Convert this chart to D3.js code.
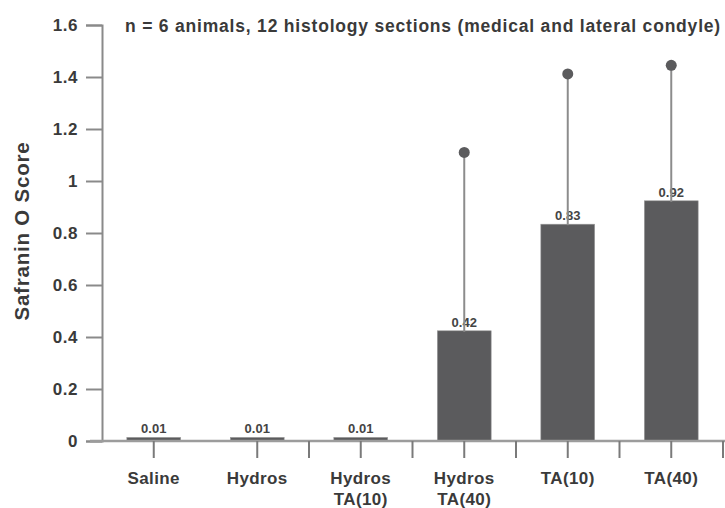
<!DOCTYPE html>
<html>
<head>
<meta charset="utf-8">
<script src="https://cdn.jsdelivr.net/npm/d3@7"></script>
<style>
  body { margin: 0; background: #fff; }
  text { font-family: "Liberation Sans", Arial, sans-serif; }
</style>
</head>
<body>
<div id="chart"></div>
<script>
const categories = [['Saline'], ['Hydros'], ['Hydros', 'TA(10)'], ['Hydros', 'TA(40)'], ['TA(10)'], ['TA(40)']];
const means = [0.01, 0.01, 0.01, 0.42, 0.83, 0.92];
const errTops = [null, null, null, 1.11, 1.412, 1.445];
const yTicks = [0, 0.2, 0.4, 0.6, 0.8, 1, 1.2, 1.4, 1.6];
const title = 'n = 6 animals, 12 histology sections (medical and lateral condyle)';

const width = 725, height = 508;
const margin = { top: 25, right: 2, bottom: 67, left: 102 };
const innerW = width - margin.left - margin.right;
const innerH = height - margin.top - margin.bottom;

const barColor = '#5b5b5d';
const axisColor = '#8a8a8a';
const textColor = '#3a3a3a';

const svg = d3.select('#chart')
    .append('svg')
    .attr('width', width)
    .attr('height', height)
    .append('g')
    .attr('transform', `translate(${margin.left}, ${margin.top})`);

const xScale = d3.scaleBand()
    .domain(d3.range(categories.length))
    .range([0, innerW])
    .paddingInner(0)
    .paddingOuter(0);

const yScale = d3.scaleLinear()
    .domain([0, 1.6])
    .range([innerH, 0]);

// y axis
const yAxis = svg.append('g')
    .call(d3.axisLeft(yScale).tickValues(yTicks).tickSize(16).tickPadding(8)
        .tickFormat(d => d3.format('~g')(d)));
yAxis.select('.domain').attr('stroke', axisColor).attr('stroke-width', 2);
yAxis.selectAll('.tick line').attr('stroke', axisColor).attr('stroke-width', 2);
yAxis.selectAll('.tick text')
    .attr('fill', textColor)
    .style('font-size', '17px')
    .style('letter-spacing', '0.5px')
    .style('font-weight', 'bold');

// bars
svg.selectAll('.bar')
    .data(means)
    .enter()
    .append('rect')
    .attr('class', 'bar')
    .attr('x', (d, i) => xScale(i) + xScale.bandwidth() * 0.24)
    .attr('width', xScale.bandwidth() * 0.52)
    .attr('y', d => yScale(d) - 1)
    .attr('height', d => innerH - yScale(d) + 1)
    .attr('fill', barColor)
    .attr('stroke', '#9a9a9a')
    .attr('stroke-width', 0.6);

// x baseline, drawn a bit past the y axis
svg.append('line')
    .attr('x1', -12)
    .attr('x2', innerW + 2)
    .attr('y1', yScale(0))
    .attr('y2', yScale(0))
    .attr('stroke', '#9c9c9c')
    .attr('stroke-width', 2.5);

// x ticks: centre of each band, and band edges from the third category on
const centerTicks = d3.range(categories.length).map(i => xScale(i) + xScale.bandwidth() / 2);
const edgeTicks = d3.range(2, categories.length).map(i => xScale(i)).concat([xScale.range()[1]]);
svg.selectAll('.xtick')
    .data(centerTicks.concat(edgeTicks))
    .enter()
    .append('line')
    .attr('x1', d => d)
    .attr('x2', d => d)
    .attr('y1', innerH)
    .attr('y2', innerH + 17)
    .attr('stroke', '#7a7a7a')
    .attr('stroke-width', 2);

// category labels
const catLabels = svg.selectAll('.cat')
    .data(categories)
    .enter()
    .append('text')
    .attr('text-anchor', 'middle')
    .attr('fill', textColor)
    .style('font-size', '17px')
    .style('letter-spacing', '0.4px')
    .style('font-weight', 'bold');
catLabels.selectAll('tspan')
    .data((d, i) => d.map(t => ({ t, i })))
    .enter()
    .append('tspan')
    .attr('x', d => xScale(d.i) + xScale.bandwidth() / 2)
    .attr('y', (d, j) => innerH + 43 + j * 21)
    .text(d => d.t);

// value labels
svg.selectAll('.val')
    .data(means)
    .enter()
    .append('text')
    .attr('x', (d, i) => xScale(i) + xScale.bandwidth() / 2)
    .attr('y', d => yScale(d) - 5)
    .attr('text-anchor', 'middle')
    .attr('fill', '#444')
    .style('font-size', '13px')
    .style('font-weight', 'bold')
    .text(d => d.toFixed(2));

// error whiskers
const errs = errTops.map((e, i) => ({ e, i })).filter(d => d.e !== null);
svg.selectAll('.err')
    .data(errs)
    .enter()
    .append('line')
    .attr('x1', d => xScale(d.i) + xScale.bandwidth() / 2)
    .attr('x2', d => xScale(d.i) + xScale.bandwidth() / 2)
    .attr('y1', d => yScale(means[d.i]))
    .attr('y2', d => yScale(d.e))
    .attr('stroke', '#8c8c8c')
    .attr('stroke-width', 2);
svg.selectAll('.errdot')
    .data(errs)
    .enter()
    .append('circle')
    .attr('cx', d => xScale(d.i) + xScale.bandwidth() / 2)
    .attr('cy', d => yScale(d.e))
    .attr('r', 5.5)
    .attr('fill', '#5b5b5d');

// title
svg.append('text')
    .attr('x', 23)
    .attr('y', 7)
    .attr('fill', textColor)
    .style('font-size', '17.5px')
    .style('letter-spacing', '0.8px')
    .style('font-weight', 'bold')
    .text(title);

// y label
svg.append('text')
    .attr('transform', `translate(${-73}, ${innerH / 2 - 2}) rotate(-90)`)
    .attr('text-anchor', 'middle')
    .attr('fill', textColor)
    .style('font-size', '20.5px')
    .style('letter-spacing', '0.8px')
    .style('font-weight', 'bold')
    .text('Safranin O Score');
</script>
</body>
</html>
